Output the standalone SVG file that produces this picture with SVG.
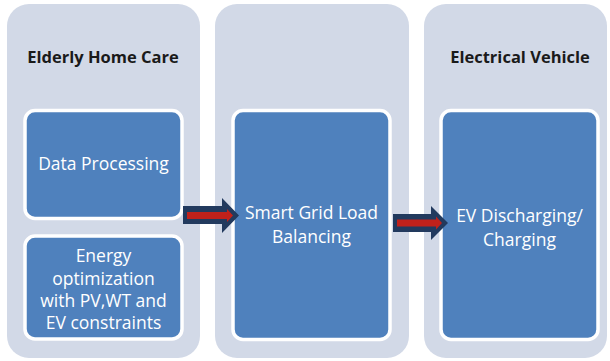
<svg xmlns="http://www.w3.org/2000/svg" width="610" height="361" viewBox="0 0 610 361">
  <style>
    .panel { fill: #D2D9E7; }
    .box { fill: #4F81BD; stroke: #FFFFFF; stroke-width: 3.5; }
    .title { font-family: "Open Sans", "Liberation Sans", sans-serif; font-weight: bold; font-size: 16.5px; fill: #1A1A1A; text-anchor: middle; }
    .label { font-family: "Open Sans", "Liberation Sans", sans-serif; font-size: 17.5px; fill: #FFFFFF; text-anchor: middle; }
    .arrow-outer { fill: #223A5E; }
    .arrow-inner { fill: #C0211B; }
  </style>

  <!-- Column panels -->
  <g id="panel-elderly">
    <rect class="panel" x="7" y="4" width="193" height="354" rx="22"/>
    <text class="title" x="103" y="63">Elderly Home Care</text>
  </g>
  <g id="panel-grid">
    <rect class="panel" x="215" y="4" width="194" height="354" rx="22"/>
  </g>
  <g id="panel-ev">
    <rect class="panel" x="424" y="4" width="183" height="354" rx="22"/>
    <text class="title" x="520" y="63">Electrical Vehicle</text>
  </g>

  <!-- Process boxes -->
  <g id="node-data-processing">
    <rect class="box" x="25" y="110.5" width="157" height="108" rx="10"/>
    <text class="label" x="103.5" y="170">Data Processing</text>
  </g>
  <g id="node-energy-optimization">
    <rect class="box" x="25" y="236" width="157" height="103" rx="10"/>
    <text class="label" x="103.5" y="262">Energy</text>
    <text class="label" x="103.5" y="284.5">optimization</text>
    <text class="label" x="103.5" y="307">with PV,WT and</text>
    <text class="label" x="103.5" y="329">EV constraints</text>
  </g>
  <g id="node-smart-grid">
    <rect class="box" x="233" y="110.5" width="157" height="229" rx="10"/>
    <text class="label" x="311.5" y="219">Smart Grid Load</text>
    <text class="label" x="311.5" y="243">Balancing</text>
  </g>
  <g id="node-ev-charging">
    <rect class="box" x="441" y="110.5" width="157" height="229" rx="10"/>
    <text class="label" x="519.5" y="222">EV Discharging/</text>
    <text class="label" x="519.5" y="246">Charging</text>
  </g>

  <!-- Connectors: block arrows -->
  <g id="connectors">
    <g id="arrow-1">
      <polygon class="arrow-outer" points="183,206 222,206 222,198 239,215.5 222,233 222,224 183,224"/>
      <polygon class="arrow-inner" points="187,212 227,212 227,209 233,215.5 227,222 227,219 187,219"/>
    </g>
    <g id="arrow-2">
      <polygon class="arrow-outer" points="393,214 431,214 431,206 448,223 431,240 431,232 393,232"/>
      <polygon class="arrow-inner" points="397,219.5 436,219.5 436,216.5 442,223 436,229.5 436,226.5 397,226.5"/>
    </g>
  </g>
</svg>
